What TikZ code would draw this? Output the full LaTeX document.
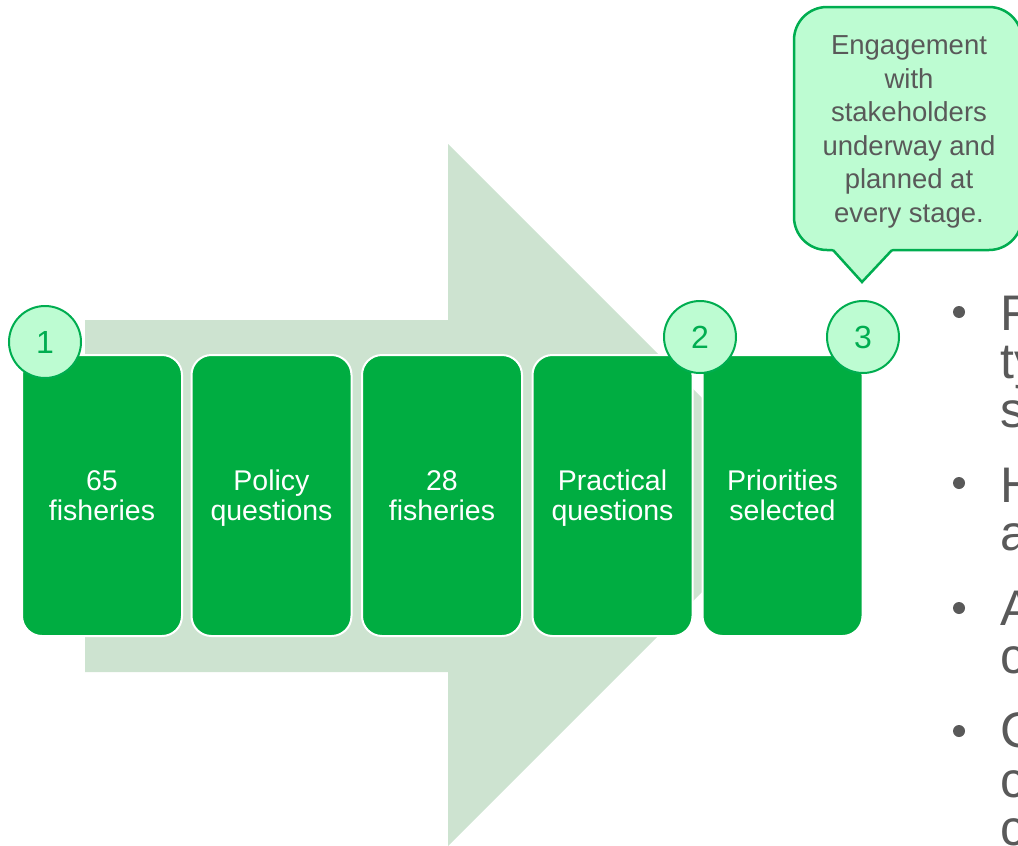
\documentclass[tikz,border=0pt]{standalone}
\usepackage{fontspec}
\setmainfont{Liberation Sans}
\definecolor{arrowgreen}{RGB}{205,227,208}
\definecolor{boxgreen}{RGB}{0,173,65}
\definecolor{lightgreen}{RGB}{189,252,210}
\definecolor{bordergreen}{RGB}{0,173,80}
\definecolor{textgray}{RGB}{89,89,89}
\begin{document}
\begin{tikzpicture}[x=1pt,y=-1pt,
  stepbox/.style={fill=boxgreen, draw=white, line width=2pt, rounded corners=20pt,
    minimum width=160pt, minimum height=281pt, text=white, align=center, inner sep=0pt,
    font=\fontsize{28.5}{30}\selectfont},
  numcirc/.style={circle, fill=lightgreen, draw=bordergreen, line width=2pt,
    minimum size=72pt, inner sep=0pt, text=bordergreen, font=\fontsize{32}{32}\selectfont},
  calloutshape/.style={fill=lightgreen, draw=bordergreen, line width=2.5pt},
  callouttext/.style={text=textgray, align=center, inner sep=0pt,
    font=\fontsize{27.5}{33.5}\selectfont},
  bullettext/.style={anchor=base west, text=textgray, inner sep=0pt,
    font=\fontsize{50}{50}\selectfont},
  bulletdot/.style={circle, fill=textgray, minimum size=12pt, inner sep=0pt}
]
\useasboundingbox (0,0) rectangle (1018,846);
% big background arrow
\fill[arrowgreen] (85,320) -- (448,320) -- (448,144) -- (799,495) -- (448,846)
  -- (448,672) -- (85,672) -- cycle;
% steps
\node[stepbox] (b1) at (102,495.5) {65\\fisheries};
\node[stepbox] (b2) at (271.5,495.5) {Policy\\\smash{questions}};
\node[stepbox] (b3) at (442,495.5) {28\\fisheries};
\node[stepbox] (b4) at (612.5,495.5) {Practical\\\smash{questions}};
\node[stepbox] (b5) at (782.5,495.5) {Priorities\\selected};
% number circles
\node[numcirc] (c1) at (45,342) {1};
\node[numcirc] (c2) at (700,337) {2};
\node[numcirc] (c3) at (863,337) {3};
% callout
\draw[calloutshape, rounded corners=33pt] (794,7) rectangle (1022,250);
\fill[lightgreen] (831,247) -- (862,281) -- (894,247) -- cycle;
\draw[bordergreen, line width=2.5pt, line join=miter] (833,250) -- (862,282) -- (892,250);
\node[callouttext] (co) at (909,132) {Engagement\\with\\stakeholders\\underway and\\planned at\\every stage.};
% clipped bullet list
\node[bulletdot] (d1) at (959,312) {};
\node[bulletdot] (d2) at (959,483) {};
\node[bulletdot] (d3) at (959,608) {};
\node[bulletdot] (d4) at (959,731) {};
\node[bullettext] (t1a) at (1000,330) {F};
\node[bullettext] (t1b) at (1000,378) {ty};
\node[bullettext] (t1c) at (1000,427) {s};
\node[bullettext] (t2a) at (1000,502) {H};
\node[bullettext] (t2b) at (1000,550) {a};
\node[bullettext] (t3a) at (1000,625) {A};
\node[bullettext] (t3b) at (1000,673) {c};
\node[bullettext] (t4a) at (1000,747) {C};
\node[bullettext] (t4b) at (1000,797) {c};
\node[bullettext] (t4c) at (1000,845) {c};
\end{tikzpicture}
\end{document}
